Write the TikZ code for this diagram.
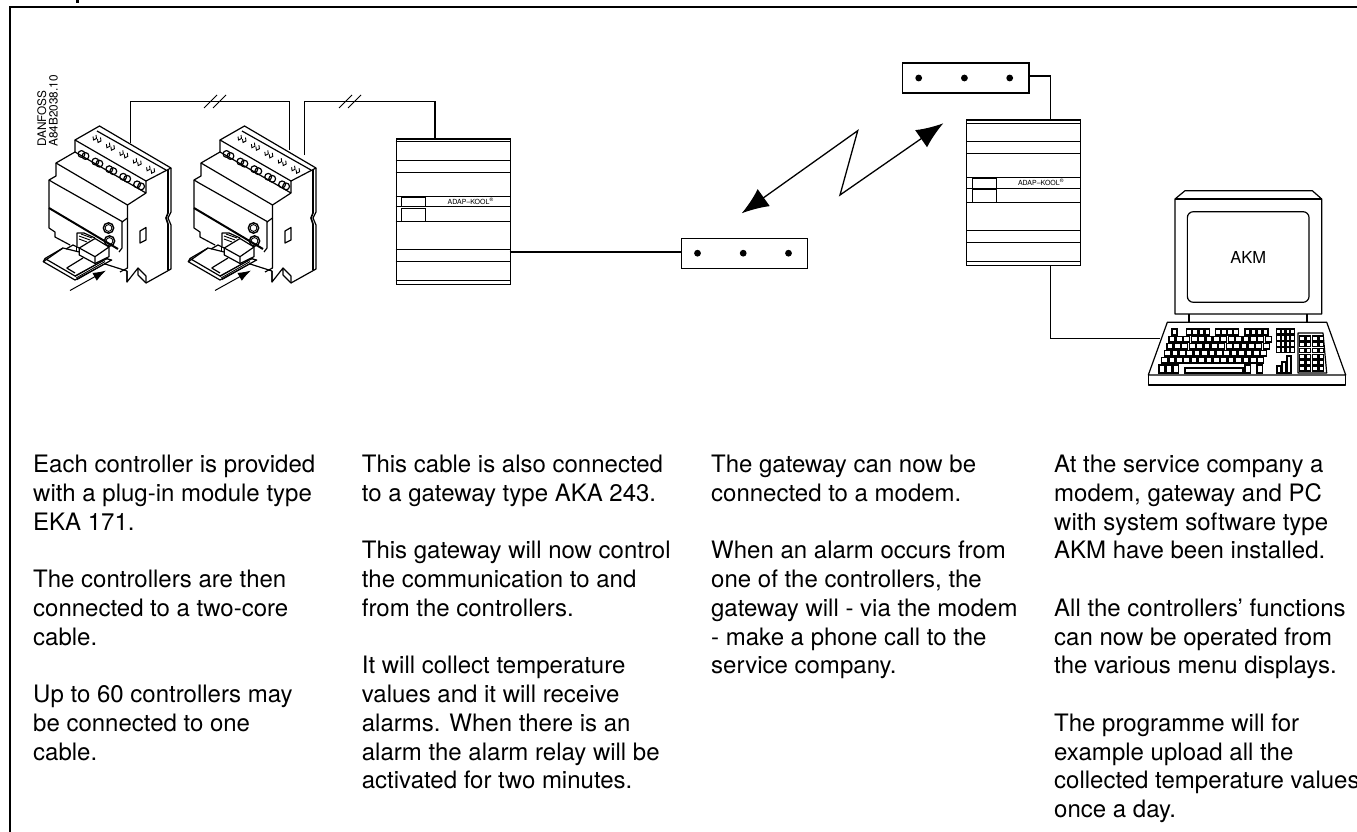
\documentclass[tikz,border=0pt]{standalone}
\usepackage{fontspec}
\setmainfont{TeX Gyre Heros}
\usetikzlibrary{arrows.meta,calc}
\tikzset{
  wire/.style={line width=1.2pt},
  thin line/.style={line width=0.9pt},
  body/.style={line width=1.2pt,line join=round},
  keycap/.style={line width=1.3pt,fill=white},
  modem/.style={draw,line width=1.3pt,minimum width=126.6pt,minimum height=30pt,inner sep=0pt,anchor=north west},
  gateway/.style={draw,line width=1.3pt,minimum width=114pt,minimum height=145.5pt,inner sep=0pt,anchor=north west},
  radio/.style={line width=1.3pt,arrows={Latex[length=27pt,width=21pt]-Latex[length=27pt,width=21pt]},line join=miter},
  column/.style={anchor=north west,align=left,inner sep=0pt,font=\fontsize{24}{28.75}\selectfont},
}
% three dots of a modem, numbers from the left edge
\newcommand{\MODEMDOTS}[1]{
  \foreach \dx in {17,62.7,108}
    \fill ($(#1.north west)+(\dx,15.7)$) circle (3.4pt);
}
% gateway: lines and the small display
\newcommand{\GATEWAYLINES}[1]{
  \foreach \dy in {3.5,22.4,34.4,57.7,68.5,83.4,110.8,122.7,141.7}
    \draw[thin line] ($(#1.north west)+(0,\dy)$) -- ($(#1.north east)+(0,\dy)$);
  \draw[thin line] ($(#1.north west)+(6,59)$) rectangle ($(#1.north west)+(30,68.5)$);
  \draw[thin line] ($(#1.north west)+(6,70)$) rectangle ($(#1.north west)+(30,83)$);
  \node (#1label) at ($(#1.north west)+(75,63)$) {\fontsize{7}{8}\selectfont ADAP--KOOL\textsuperscript{\textregistered}};
}
% one controller, x is the shift from the first one
\newcommand{\CONTROLLER}[1]{
  \begin{scope}[shift={(#1,0)}]
    % top with terminals
    \draw[body] (75,140) -- (99.5,126) -- (171,168) -- (146,181) -- cycle;
    \draw[body] (97,131) -- (166,170);
    \draw[body] (75,140) -- (75,152) -- (56,163) -- (127.5,205) -- (127.5,218) -- (122,222) -- (122,248) -- (119,252);
    \draw[body] (146,181) -- (146,193) -- (127.5,205);
    \draw[body] (75,152) -- (146,193);
    \foreach \k in {0,1,2,3,4}{
      \draw[body] ($(81.5,154)+(\k*13.9,\k*7.6)$) circle (3.4pt);
      \draw[body] ($(85.5,156)+(\k*13.9,\k*7.6)$) circle (3.4pt);
      \draw[thin line] ($(93,136.5)+(\k*13.4,\k*7.7)$) -- ++(0.5,3.5) -- ++(3,-1.5) -- ++(-0.5,-3.5);
      \draw[thin line] ($(97.5,139)+(\k*13.4,\k*7.7)$) -- ++(0.5,3.5) -- ++(3,-1.5) -- ++(-0.5,-3.5);
    }
    % front of the housing
    \draw[body] (56,163) -- (56,176) -- (49,180) -- (49,208) -- (49,228) -- (55,232) -- (55,237) -- (70,245);
    \draw[body] (49,180) -- (54,183) -- (123,222);
    \draw[line width=2pt] (49,208) -- (118,249);
    \draw[body] (127.5,218) -- (127.5,268) -- (120,272);
    % side of the housing
    \draw[body] (171,168) -- (171,212) -- (168,218) -- (171,225) -- (171,269) -- (146,283) -- (138,275) -- (138,268) -- (127,282) -- (127,271);
    \draw[line width=1.6pt] (168,170) -- (168,213) -- (166,218) -- (168,224) -- (168,270);
    \draw[body] (146,283) -- (146,276) -- (138,268);
    \draw[body] (127,282) -- (127,271) -- (102,263);
    \draw[body] (140,231) -- (146,227.5) -- (146,240) -- (140,243) -- cycle;
    % buttons
    \draw[line width=1.4pt] (108.5,228) circle (5.2pt) (109.5,241) circle (5.2pt);
    \draw[thin line] (108.5,228) circle (3.4pt) (109.5,241) circle (3.4pt);
    % plug-in module
    \draw[body,fill=white] (43.3,261.7) -- (63,248) -- (111.7,260) -- (75,280) -- cycle;
    \draw[body] (45,258.5) -- (63,248);
    \draw[body] (45,258.5) -- (43.3,261.7);
    \draw[body] (45,258.5) -- (75,276) -- (108,258);
    \foreach \d in {0,1.6,3.2}
      \draw[thin line] ($(75,276.5)+(\d*0.6,\d)$) -- ($(104,260)+(\d*0.6,\d)$);
    \draw[body] (66.7,268) -- (83,258) (66.7,268) -- (75,273);
    \draw[body,fill=white] (79.3,248) -- (95,238.5) -- (109,247) -- (109,256.7) -- (95,263.5) -- (79.3,255) -- cycle;
    \draw[body] (79.3,248) -- (95,256.7) -- (109,247) (95,256.7) -- (95,263.5);
    \draw[body] (77,246) -- (77,233) -- (84,233) -- (95,238);
    \draw[thin line] (79,236) -- (90,240) (79,239) -- (87,242) (81,234) -- (92,238);
    \draw[body] (66,249) -- (73,245) -- (79.3,248);
    \draw[thin line] (76,246) -- (76,252);
    % arrow into the socket
    \draw[line width=1pt,-{Latex[length=13pt,width=9pt]}] (70,290.5) -- (106,270.5);
  \end{scope}
}
\begin{document}
\begin{tikzpicture}[x=1pt,y=-1pt]
  \useasboundingbox (0,0) rectangle (1357,832);
  \fill[white] (0,0) rectangle (1357,832);
  % frame
  \draw[line width=1.2pt] (10,832) -- (10,7) -- (1357,7);
  \fill (76,0) rectangle (78.5,3);
  % the two controllers
  \CONTROLLER{0}
  \CONTROLLER{145}
  \node (danfoss) at (47.5,147) [rotate=90,anchor=west,align=left,inner sep=0pt,font=\fontsize{11.8}{11.5}\selectfont] {DANFOSS\\A84B2038.10};
  \coordinate (ctrlAout) at (130.5,143);
  \coordinate (ctrlBin)  at (289.5,150);
  \coordinate (ctrlBout) at (304.5,155);
  \coordinate (bendA) at (130.5,101.5);
  \coordinate (bendB) at (304.5,101.5);
  % gateways and modems
  \node (gateA) at (395.7,138.3) [gateway] {};
  \node (gateB) at (966,119.5) [gateway] {};
  \node (modemA) at (680.5,237.5) [modem] {};
  \node (modemB) at (901.7,62.3) [modem] {};
  \GATEWAYLINES{gateA}
  \GATEWAYLINES{gateB}
  \MODEMDOTS{modemA}
  \MODEMDOTS{modemB}
  % wires
  \coordinate (gateAin) at (435,138.3);
  \draw[wire] (ctrlAout) -- (bendA) -| (ctrlBin);
  \draw[wire] (ctrlBout) -- (bendB) -| (gateAin);
  \foreach \sx in {204,339}{
    \coordinate (cutA) at (\sx,108);
    \draw[thin line] (cutA) -- ++(13,-13);
    \draw[thin line] ($(cutA)+(9,0)$) -- ++(13,-13);
  }
  \coordinate (gateAout) at (509.7,252);
  \draw[wire] (gateAout) -- (gateAout -| modemA.west);
  \coordinate (modemBout) at (1028.3,76);
  \coordinate (gateBin) at (1050.7,119.5);
  \coordinate (gateBout) at (1050.7,265);
  \coordinate (keysIn) at (1160,338.7);
  \draw[wire] (modemBout) -| (gateBin);
  \draw[wire] (gateBout) |- (keysIn);
  % radio link
  \coordinate (radioA) at (741.7,213.3);
  \coordinate (radioB) at (943.3,123.3);
  \draw[radio] (radioA) -- (857.7,130.7) -- (840,195) -- (radioB);
  % monitor
  \draw[body] (1175,314) -- (1175,199) -- (1185,190.7) -- (1312.3,190.7) -- (1321.7,199) -- (1321.7,314) -- cycle;
  \draw[body] (1175,199) -- (1321.7,199);
  \node (screen) at (1248.2,257) [draw,line width=1.2pt,rounded corners=6pt,minimum width=121.7pt,minimum height=90.6pt,inner sep=0pt,font=\fontsize{16.5}{18}\selectfont] {AKM};
  \draw[body] (1189,314) -- (1189,322.3) (1307,314) -- (1307,322.3);
  % keyboard
  \draw[body] (1167.3,322.3) -- (1326.7,322.3) -- (1345.7,375) -- (1148.3,375) -- cycle;
  \draw[body] (1148.3,375) -- (1148.3,385) -- (1345.7,385) -- (1345.7,375);
  \draw[keycap] (1172,329) rectangle ++(5,6);
  \foreach \gx in {1186.7,1215.5,1245}{
    \foreach \k in {0,1,2,3}
      \draw[keycap] ({\gx+\k*6.1},329) rectangle ++(4.8,6);
  }
  \foreach \row/\sx in {0/1169,1/1167,2/1164.5,3/1161.5}{
    \foreach \k in {0,...,13}
      \draw[keycap] ({\sx+\k*7.4},{336.5+\row*7}) rectangle ++(6,5.6);
  }
  \foreach \kx in {1159,1166,1173,1245,1257}
    \draw[keycap] (\kx,365) rectangle ++(5.8,8);
  \draw[keycap] (1185,368) rectangle (1243,373);
  \foreach \k in {0,1,2,3}{
    \foreach \j in {0,1,2,3}
      \draw[keycap] ({1276.7+\k*4.7},{329+\j*6.2}) rectangle ++(3.6,5);
  }
  \draw[keycap] (1282,362) rectangle ++(4,11) (1287,356) rectangle ++(4,17) (1277,366) rectangle ++(4,7);
  \draw[body] (1298,333) -- (1323,333) -- (1326.7,373) -- (1298,373) -- cycle;
  \foreach \k in {0,...,3}{
    \foreach \j in {0,...,5}
      \draw[keycap] ({1299.5+\k*6.5},{336+\j*6.1}) rectangle ++(4.8,4.6);
  }
  % text columns
  \node (colA) at (33,455) [column] {Each controller is provided\\with a plug-in module type\\EKA 171.\\[28.75pt]The controllers are then\\connected to a two-core\\cable.\\[28.75pt]Up to 60 controllers may\\be connected to one\\cable.};
  \node (colB) at (361.7,455) [column] {This cable is also connected\\to a gateway type AKA 243.\\[28.75pt]This gateway will now control\\the communication to and\\from the controllers.\\[28.75pt]It will collect temperature\\values and it will receive\\alarms. When there is an\\alarm the alarm relay will be\\activated for two minutes.};
  \node (colC) at (711,455) [column] {The gateway can now be\\connected to a modem.\\[28.75pt]When an alarm occurs from\\one of the controllers, the\\gateway will - via the modem\\- make a phone call to the\\service company.};
  \node (colD) at (1054,455) [column] {At the service company a\\modem, gateway and PC\\with system software type\\AKM have been installed.\\[28.75pt]All the controllers' functions\\can now be operated from\\the various menu displays.\\[28.75pt]The programme will for\\example upload all the\\collected temperature values\\once a day.};
\end{tikzpicture}
\end{document}
